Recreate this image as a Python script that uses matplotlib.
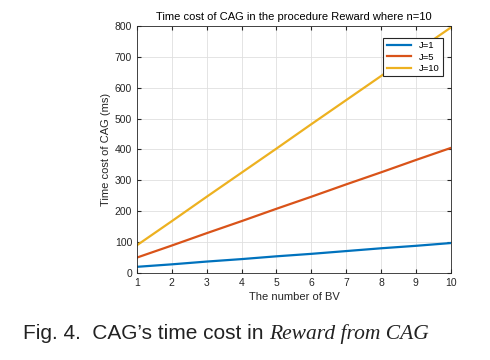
import matplotlib

matplotlib.use("Agg")
import matplotlib.pyplot as plt

# data
bv = [1, 2, 3, 4, 5, 6, 7, 8, 9, 10]
cost_j1 = [20, 28, 37, 45, 54, 62, 71, 80, 88, 97]
cost_j5 = [50, 89, 129, 168, 208, 247, 287, 326, 366, 405]
cost_j10 = [90, 168, 247, 325, 403, 482, 560, 638, 717, 795]
labels = ["J=1", "J=5", "J=10"]
colors = ["#0072BD", "#D95319", "#EDB120"]

plt.rcParams["font.family"] = ["Liberation Sans", "DejaVu Sans"]
axcol = "#262626"

fig = plt.figure(figsize=(4.9, 3.6), dpi=100)
ax = fig.add_axes([0.2796, 0.2417, 0.6404, 0.6861])

for ys, lab, c in zip([cost_j1, cost_j5, cost_j10], labels, colors):
    ax.plot(bv, ys, color=c, linewidth=1.6, label=lab)

ax.set_xlim(1, 10)
ax.set_ylim(0, 800)
ax.set_xticks(range(1, 11))
ax.set_yticks(range(0, 801, 100))
ax.grid(True, color="#dfdfdf", linewidth=0.6)
ax.tick_params(direction="in", labelsize=7.5, colors=axcol, length=3,
               top=True, right=True)
for s in ax.spines.values():
    s.set_color(axcol)
    s.set_linewidth(0.6)

ax.set_xlabel("The number of BV", fontsize=8, color=axcol, labelpad=3)
ax.set_ylabel("Time cost of CAG (ms)", fontsize=8, color=axcol, labelpad=3)
ax.set_title("Time cost of CAG in the procedure Reward where n=10",
             fontsize=8, color="#000000", pad=4)

leg = ax.legend(loc="upper right", fontsize=6.8, frameon=True, fancybox=False,
                handlelength=2.6, borderpad=0.35, labelspacing=0.25,
                bbox_to_anchor=(0.99, 0.97))
leg.get_frame().set_edgecolor(axcol)
leg.get_frame().set_linewidth(0.8)
leg.get_frame().set_alpha(1)

# caption: upright part, then the italic serif part right after it
cap = fig.text(0.047, 0.058, "Fig. 4.  CAG\u2019s time cost in ", fontsize=15,
               color="#222222", va="baseline")
fig.canvas.draw()
bb = cap.get_window_extent().transformed(fig.transFigure.inverted())
fig.text(bb.x1, 0.058, "Reward from CAG", fontsize=15.5, color="#222222",
         family="Liberation Serif", style="italic", va="baseline")

fig.savefig("out.png", dpi=100)
